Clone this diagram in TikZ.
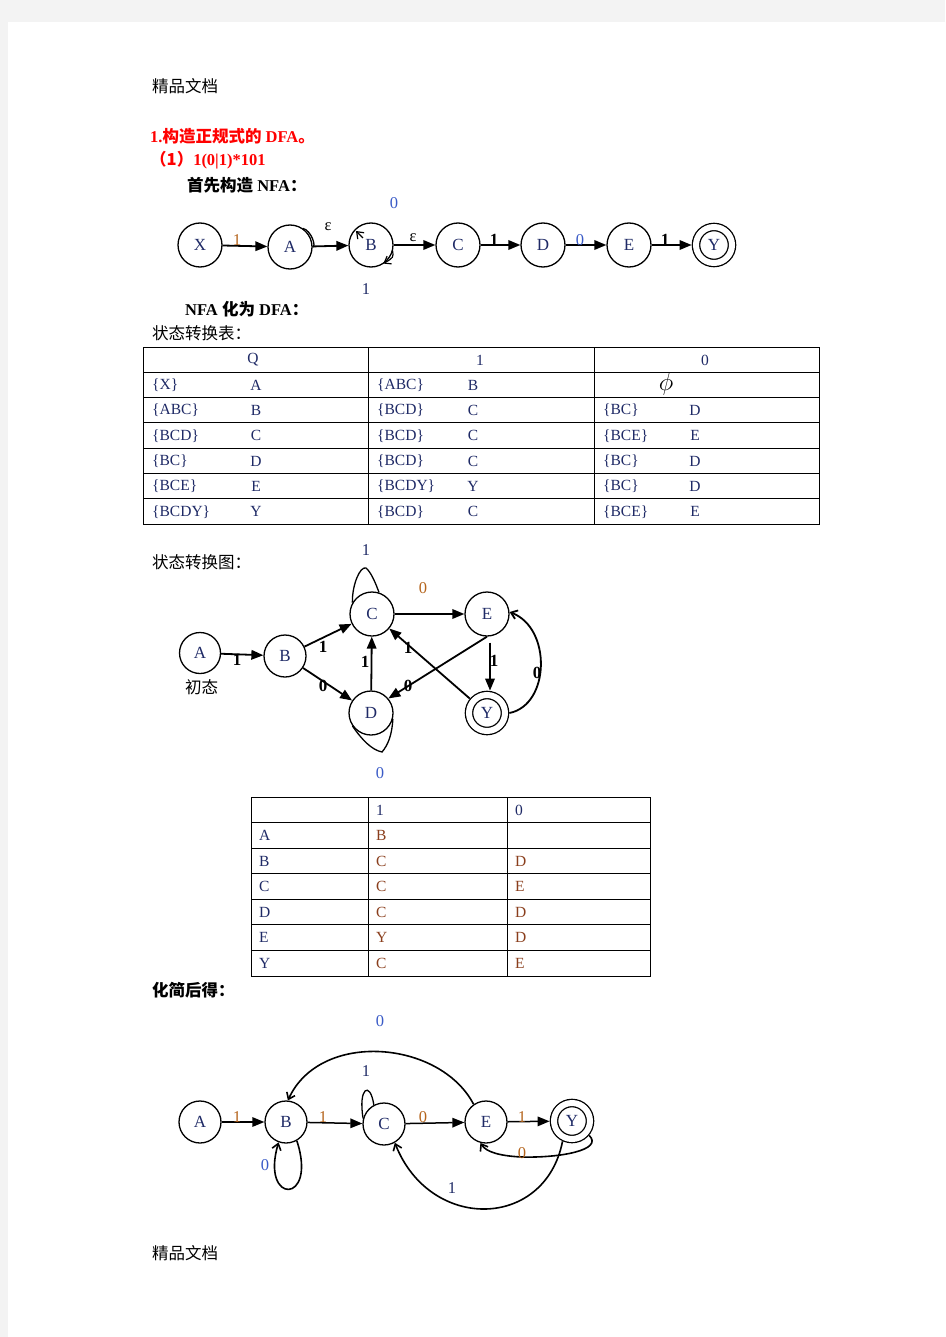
\documentclass[tikz,border=0pt]{standalone}
\usepackage{fontspec}
\setmainfont{Liberation Serif}
\newfontfamily\cjk{Noto Sans CJK SC}
\usetikzlibrary{arrows.meta}
\newcommand\setpt[1]{\fontsize{#1}{#1}\selectfont}
\definecolor{pagegrey}{HTML}{F3F3F3}
\definecolor{navy}{HTML}{1F2A66}
\definecolor{ochre}{HTML}{B5651D}
\definecolor{zeroblue}{HTML}{3A5BC7}
\definecolor{cellbrown}{HTML}{8A3E1C}
\tikzset{
  txt/.style={anchor=west, inner sep=0pt, font=\setpt{16.5}},
  state/.style={circle, draw, line width=1.3pt, minimum size=44pt, inner sep=0pt, text=navy, font=\setpt{17}},
  accept/.style={state, minimum size=36pt, double, double distance=6pt, outer sep=4.4pt},
  trans/.style={-{Triangle[length=12pt,width=9.5pt]}, line width=1.8pt},
  barb/.style={-{Straight Barb[length=6pt,width=9pt]}, line width=1.6pt},
  loopline/.style={line width=1.3pt},
  lab/.style={inner sep=1pt, font=\setpt{16.5}},
  blab/.style={inner sep=1pt, font=\setpt{17}\bfseries},
  gridline/.style={line width=1pt},
  cell/.style={anchor=west, inner sep=0pt, text=navy, font=\setpt{15.5}},
  mid/.style={inner sep=0pt, text=navy, font=\setpt{15.5}}
}

\begin{document}
\begin{tikzpicture}[x=1pt,y=-1pt]
\useasboundingbox (0,0) rectangle (945,1337);
\fill[pagegrey] (0,0) rectangle (945,1337);
\fill[white] (8,22) rectangle (945,1337);

% headings
\node[txt] (hdr) at (152,86) {\cjk 精品文档};
\node[txt, text=red] (title) at (150,136) {\bfseries 1.{\cjk 构造正规式的} DFA{\cjk 。}};
\node[txt, text=red] (sub) at (150,160) {\bfseries{\cjk （1）}1(0|1)*101};
\node[txt] (nfahead) at (187,185) {\bfseries{\cjk 首先构造} NFA{\cjk ：}};

% NFA
\node[state] (X) at (200,245) {X};
\node[state] (A) at (290,247) {A};
\node[state] (B) at (371,245) {B};
\node[state] (C) at (458,245) {C};
\node[state] (D) at (543,245) {D};
\node[state] (E) at (629,245) {E};
\node[accept] (Y) at (714,245) {Y};
\foreach \a/\b in {X/A,A/B,B/C,C/D,D/E,E/Y}
  \draw[trans] (\a) -- (\b);
\draw[loopline] (A.55) .. controls ([shift={(4,-2)}]A.40) and ([shift={(4,2)}]A.5) .. (A.0);
\draw[barb, line width=1.2pt] ([shift={(8,9)}]B.135) -- ([shift={(1,2)}]B.135);
\draw[barb, line width=1.2pt] ([shift={(1,-4)}]B.-25) .. controls ([shift={(2,3)}]B.-25) .. ([shift={(-5,4)}]B.-40);
\node[lab, text=ochre] (nx) at (237,240) {1};
\node[lab] (ne1) at (328,227) {ε};
\node[lab, text=zeroblue] (nb0) at (394,203) {0};
\node[lab, text=navy] (nb1) at (366,289) {1};
\node[lab] (ne2) at (413,238) {ε};
\node[blab] (nc) at (494,240) {1};
\node[lab, text=zeroblue] (nd) at (580,240) {0};
\node[blab] (ne) at (665,240) {1};

\node[txt] (convhead) at (185,309) {\bfseries NFA {\cjk 化为} DFA{\cjk ：}};
\node[txt] (tabhead) at (152,333) {\cjk 状态转换表：};

% subset table
\draw[gridline] (143,347) rectangle (819,524);
\foreach \r in {1,...,6}
  \draw[gridline] (143,{347+25.3*\r}) -- (819,{347+25.3*\r});
\foreach \c in {368,594}
  \draw[gridline] (\c,347) -- (\c,524);
\node[mid] (hq) at (253,360) {Q};
\node[mid] (h1) at (480,360) {1};
\node[mid] (h0) at (705,360) {0};
\foreach \sa/\la/\sb/\lb/\sc/\lc [count=\i] in {
    {\{X\}}/A/{\{ABC\}}/B/{}/{},
    {\{ABC\}}/B/{\{BCD\}}/C/{\{BC\}}/D,
    {\{BCD\}}/C/{\{BCD\}}/C/{\{BCE\}}/E,
    {\{BC\}}/D/{\{BCD\}}/C/{\{BC\}}/D,
    {\{BCE\}}/E/{\{BCDY\}}/Y/{\{BC\}}/D,
    {\{BCDY\}}/Y/{\{BCD\}}/C/{\{BCE\}}/E} {
  \node[cell] (sa\i) at (152,{347+25.3*\i+13}) {\sa};
  \node[mid] (la\i) at (256,{347+25.3*\i+13}) {\la};
  \node[cell] (sb\i) at (377,{347+25.3*\i+13}) {\sb};
  \node[mid] (lb\i) at (473,{347+25.3*\i+13}) {\lb};
  \node[cell] (sc\i) at (603,{347+25.3*\i+13}) {\sc};
  \node[mid] (lc\i) at (695,{347+25.3*\i+13}) {\lc};
}
\node[mid, text=black, font=\setpt{26}] (empty) at (666,384) {$\phi$};

% DFA
\node[txt] (dfahead) at (152,562) {\cjk 状态转换图：};
\node[state, minimum size=41pt] (DA) at (200,653) {A};
\node[state, minimum size=42pt] (DB) at (285,656) {B};
\node[state] (DC) at (372,614) {C};
\node[state] (DE) at (487,614) {E};
\node[state] (DD) at (371,713) {D};
\node[accept] (DY) at (487,713) {Y};
\node[txt] (init) at (185,687) {\cjk 初态};
\draw[trans] (DA) -- (DB);
\draw[trans] (DB) -- (DC);
\draw[trans] (DB) -- (DD);
\draw[trans] (DD) -- (DC);
\draw[trans] (DC) -- (DE);
\draw[trans] (DE.south) -- (DD.40);
\draw[trans] (DY.140) -- (DC.-40);
\draw[trans, shorten <=6pt] ([xshift=3pt]DE.south) -- ([xshift=3pt]DY.north);
\draw[barb, line width=1.8pt] (DY.east) .. controls (550,705) and (552,628) .. (DE.5);
\draw[loopline] (DC.150) .. controls (352,585) and (360,566) .. (366,568)
  .. controls (371,572) and (376,584) .. (DC.72);
\draw[loopline] (DD.215) .. controls (362,740) and (372,750) .. (382,752)
  .. controls (388,745) and (392,735) .. (DD.-15);
\node[blab] (dab) at (237,660) {1};
\node[blab] (dbc) at (323,647) {1};
\node[blab] (dbd) at (323,686) {0};
\node[blab] (ddc) at (365,662) {1};
\node[lab, text=ochre] (dce) at (423,588) {0};
\node[lab, text=navy] (dcc) at (366,550) {1};
\node[lab, text=zeroblue] (ddd) at (380,773) {0};
\node[blab] (dyc) at (408,648) {1};
\node[blab] (ded) at (408,686) {0};
\node[blab] (dey) at (494,661) {1};
\node[blab] (dye) at (537,673) {0};

% DFA table
\draw[gridline] (251,797) rectangle (650,976);
\foreach \r in {1,...,6}
  \draw[gridline] (251,{797+25.57*\r}) -- (650,{797+25.57*\r});
\foreach \c in {368,507}
  \draw[gridline] (\c,797) -- (\c,976);
\node[cell] (g1) at (376,810) {1};
\node[cell] (g0) at (515,810) {0};
\foreach \p/\q/\z [count=\i] in {A/B/{},B/C/D,C/C/E,D/C/D,E/Y/D,Y/C/E} {
  \node[cell] (gp\i) at (259,{797+25.57*\i+13}) {\p};
  \node[cell, text=cellbrown] (gq\i) at (376,{797+25.57*\i+13}) {\q};
  \node[cell, text=cellbrown] (gz\i) at (515,{797+25.57*\i+13}) {\z};
}

% minimized DFA
\node[txt] (minhead) at (152,990) {\bfseries\cjk 化简后得：};
\node[state, minimum size=42pt] (MA) at (200,1122) {A};
\node[state, minimum size=42pt] (MB) at (286,1122) {B};
\node[state, minimum size=42pt] (MC) at (384,1124) {C};
\node[state, minimum size=42pt] (ME) at (486,1122) {E};
\node[accept] (MY) at (572,1121) {Y};
\draw[trans, line width=1.5pt] (MA) -- (MB);
\draw[trans, line width=1.5pt] (MB) -- (MC);
\draw[trans, line width=1.5pt] (MC) -- (ME);
\draw[trans, line width=1.5pt] (ME) -- (MY);
\draw[barb] (ME.125) .. controls (440,1040) and (320,1030) .. (MB.85);
\draw[loopline] (MC.165) .. controls (358,1088) and (370,1080) .. (MC.118);
\draw[barb] (MB.-60) .. controls (318,1205) and (260,1205) .. (MB.-110);
\draw[barb] (MY.-40) .. controls (604,1150) and (560,1158) .. (522,1157)
  .. controls (500,1156) and (486,1152) .. (ME.-105);
\draw[barb] (MY.-115) .. controls (545,1230) and (430,1232) .. (MC.-60);
\node[lab, text=ochre] (mab) at (237,1117) {1};
\node[lab, text=ochre] (mbc) at (323,1117) {1};
\node[lab, text=ochre] (mce) at (423,1117) {0};
\node[lab, text=ochre] (mey) at (522,1117) {1};
\node[lab, text=zeroblue] (meb) at (380,1021) {0};
\node[lab, text=navy] (mcc) at (366,1071) {1};
\node[lab, text=zeroblue] (mbb) at (265,1165) {0};
\node[lab, text=ochre] (mye) at (522,1153) {0};
\node[lab, text=navy] (myc) at (452,1188) {1};

\node[txt] (ftr) at (152,1253) {\cjk 精品文档};
\end{tikzpicture}
\end{document}
